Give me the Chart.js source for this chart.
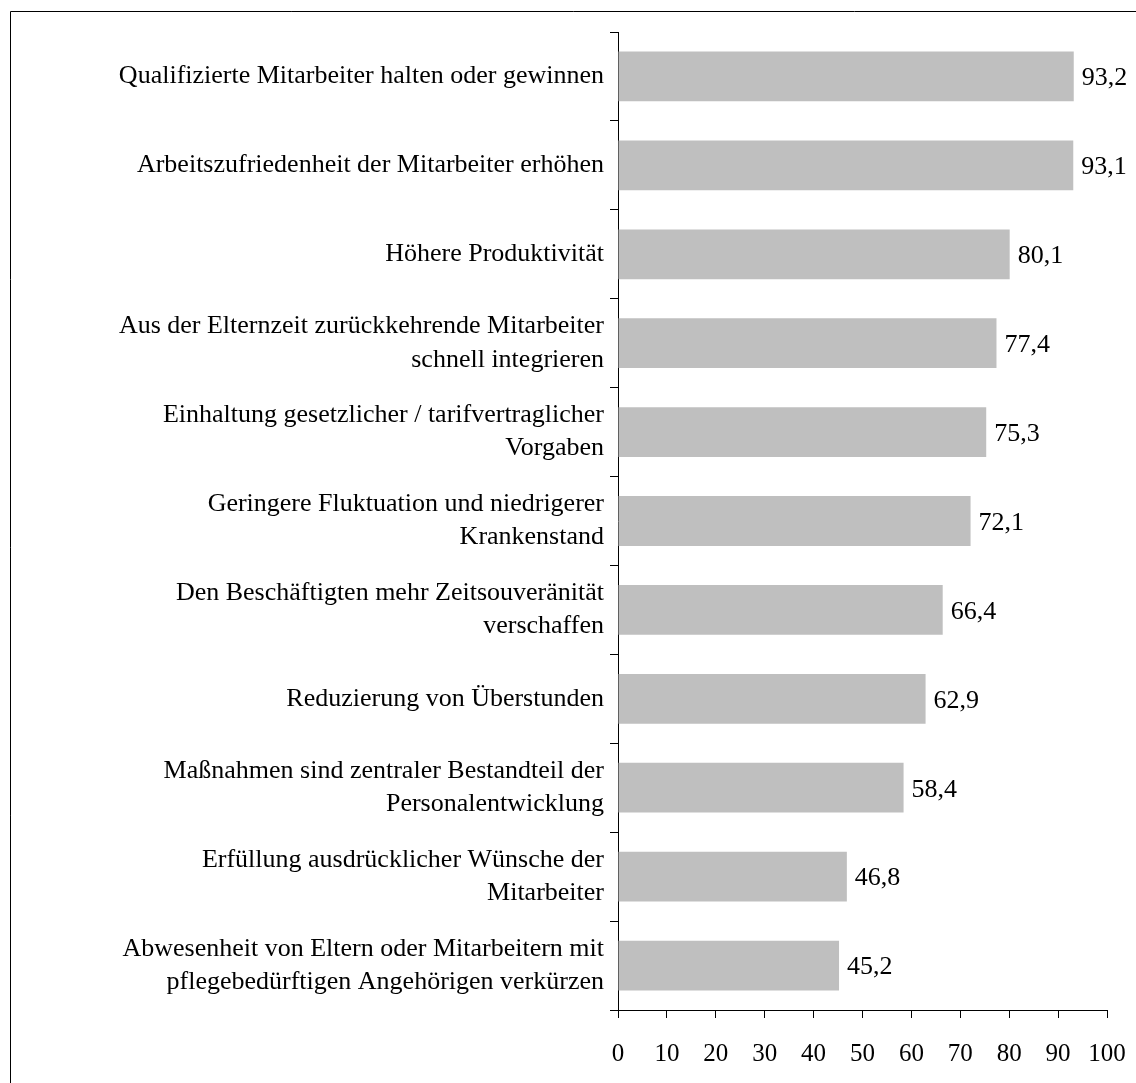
<!DOCTYPE html>
<html>
<head>
<meta charset="utf-8">
<script src="https://cdn.jsdelivr.net/npm/chart.js@4/dist/chart.umd.min.js"></script>
<style>
html,body{margin:0;padding:0;background:#fff;}
#c{display:block;}
</style>
</head>
<body>
<canvas id="c" width="1136" height="1083"></canvas>
<script>
const categories = [
  ["Qualifizierte Mitarbeiter halten oder gewinnen"],
  ["Arbeitszufriedenheit der Mitarbeiter erhöhen"],
  ["Höhere Produktivität"],
  ["Aus der Elternzeit zurückkehrende Mitarbeiter", "schnell integrieren"],
  ["Einhaltung gesetzlicher / tarifvertraglicher", "Vorgaben"],
  ["Geringere Fluktuation und niedrigerer", "Krankenstand"],
  ["Den Beschäftigten mehr Zeitsouveränität", "verschaffen"],
  ["Reduzierung von Überstunden"],
  ["Maßnahmen sind zentraler Bestandteil der", "Personalentwicklung"],
  ["Erfüllung ausdrücklicher Wünsche der", "Mitarbeiter"],
  ["Abwesenheit von Eltern oder Mitarbeitern mit", "pflegebedürftigen Angehörigen verkürzen"]
];
const values = [93.2, 93.1, 80.1, 77.4, 75.3, 72.1, 66.4, 62.9, 58.4, 46.8, 45.2];
const xTicks = [0, 10, 20, 30, 40, 50, 60, 70, 80, 90, 100];

const FONT = "'Liberation Serif', 'Times New Roman', serif";

const framePlugin = {
  id: 'frame',
  beforeDraw(chart) {
    const ctx = chart.ctx;
    ctx.save();
    ctx.fillStyle = '#fff';
    ctx.fillRect(0, 0, chart.width, chart.height);
    ctx.strokeStyle = '#000';
    ctx.lineWidth = 1;
    ctx.beginPath();
    ctx.moveTo(10.5, chart.height);
    ctx.lineTo(10.5, 11.5);
    ctx.lineTo(chart.width, 11.5);
    ctx.stroke();
    ctx.restore();
  }
};

const valueLabels = {
  id: 'valueLabels',
  afterDatasetsDraw(chart) {
    const ctx = chart.ctx;
    const meta = chart.getDatasetMeta(0);
    ctx.save();
    ctx.font = '26px ' + FONT;
    ctx.fillStyle = '#000';
    ctx.textAlign = 'left';
    ctx.textBaseline = 'middle';
    meta.data.forEach((bar, i) => {
      const txt = values[i].toFixed(1).replace('.', ',');
      ctx.fillText(txt, bar.x + 8, bar.y + 2);
    });
    ctx.restore();
  }
};

new Chart(document.getElementById('c'), {
  type: 'bar',
  data: {
    labels: categories,
    datasets: [{
      data: values,
      backgroundColor: '#bfbfbf',
      borderWidth: 0,
      barPercentage: 0.56,
      categoryPercentage: 1.0
    }]
  },
  options: {
    indexAxis: 'y',
    responsive: false,
    animation: false,
    devicePixelRatio: 1,
    layout: { padding: { left: 0, right: 29, top: 32, bottom: 0 } },
    plugins: { legend: { display: false }, tooltip: { enabled: false } },
    scales: {
      x: {
        min: 0, max: 100,
        afterFit(s) { s.height = 73; s.paddingLeft = 0; s.paddingRight = 0; },
        afterBuildTicks(s) { s.ticks = xTicks.map(v => ({ value: v })); },
        ticks: { color: '#000', font: { family: FONT, size: 25 }, padding: 21, maxRotation: 0, autoSkip: false },
        grid: { drawOnChartArea: false, drawTicks: true, tickLength: 8, color: '#000', lineWidth: 1 },
        border: { color: '#000', width: 1 }
      },
      y: {
        afterFit(s) { s.width = 618; s.paddingTop = 0; s.paddingBottom = 0; },
        ticks: { color: '#000', font: { family: FONT, size: 26, lineHeight: 1.27 }, padding: 6, autoSkip: false },
        grid: { drawOnChartArea: false, drawTicks: true, tickLength: 8, color: '#000', lineWidth: 1, offset: true },
        border: { color: '#000', width: 1 }
      }
    }
  },
  plugins: [framePlugin, valueLabels]
});
</script>
</body>
</html>
